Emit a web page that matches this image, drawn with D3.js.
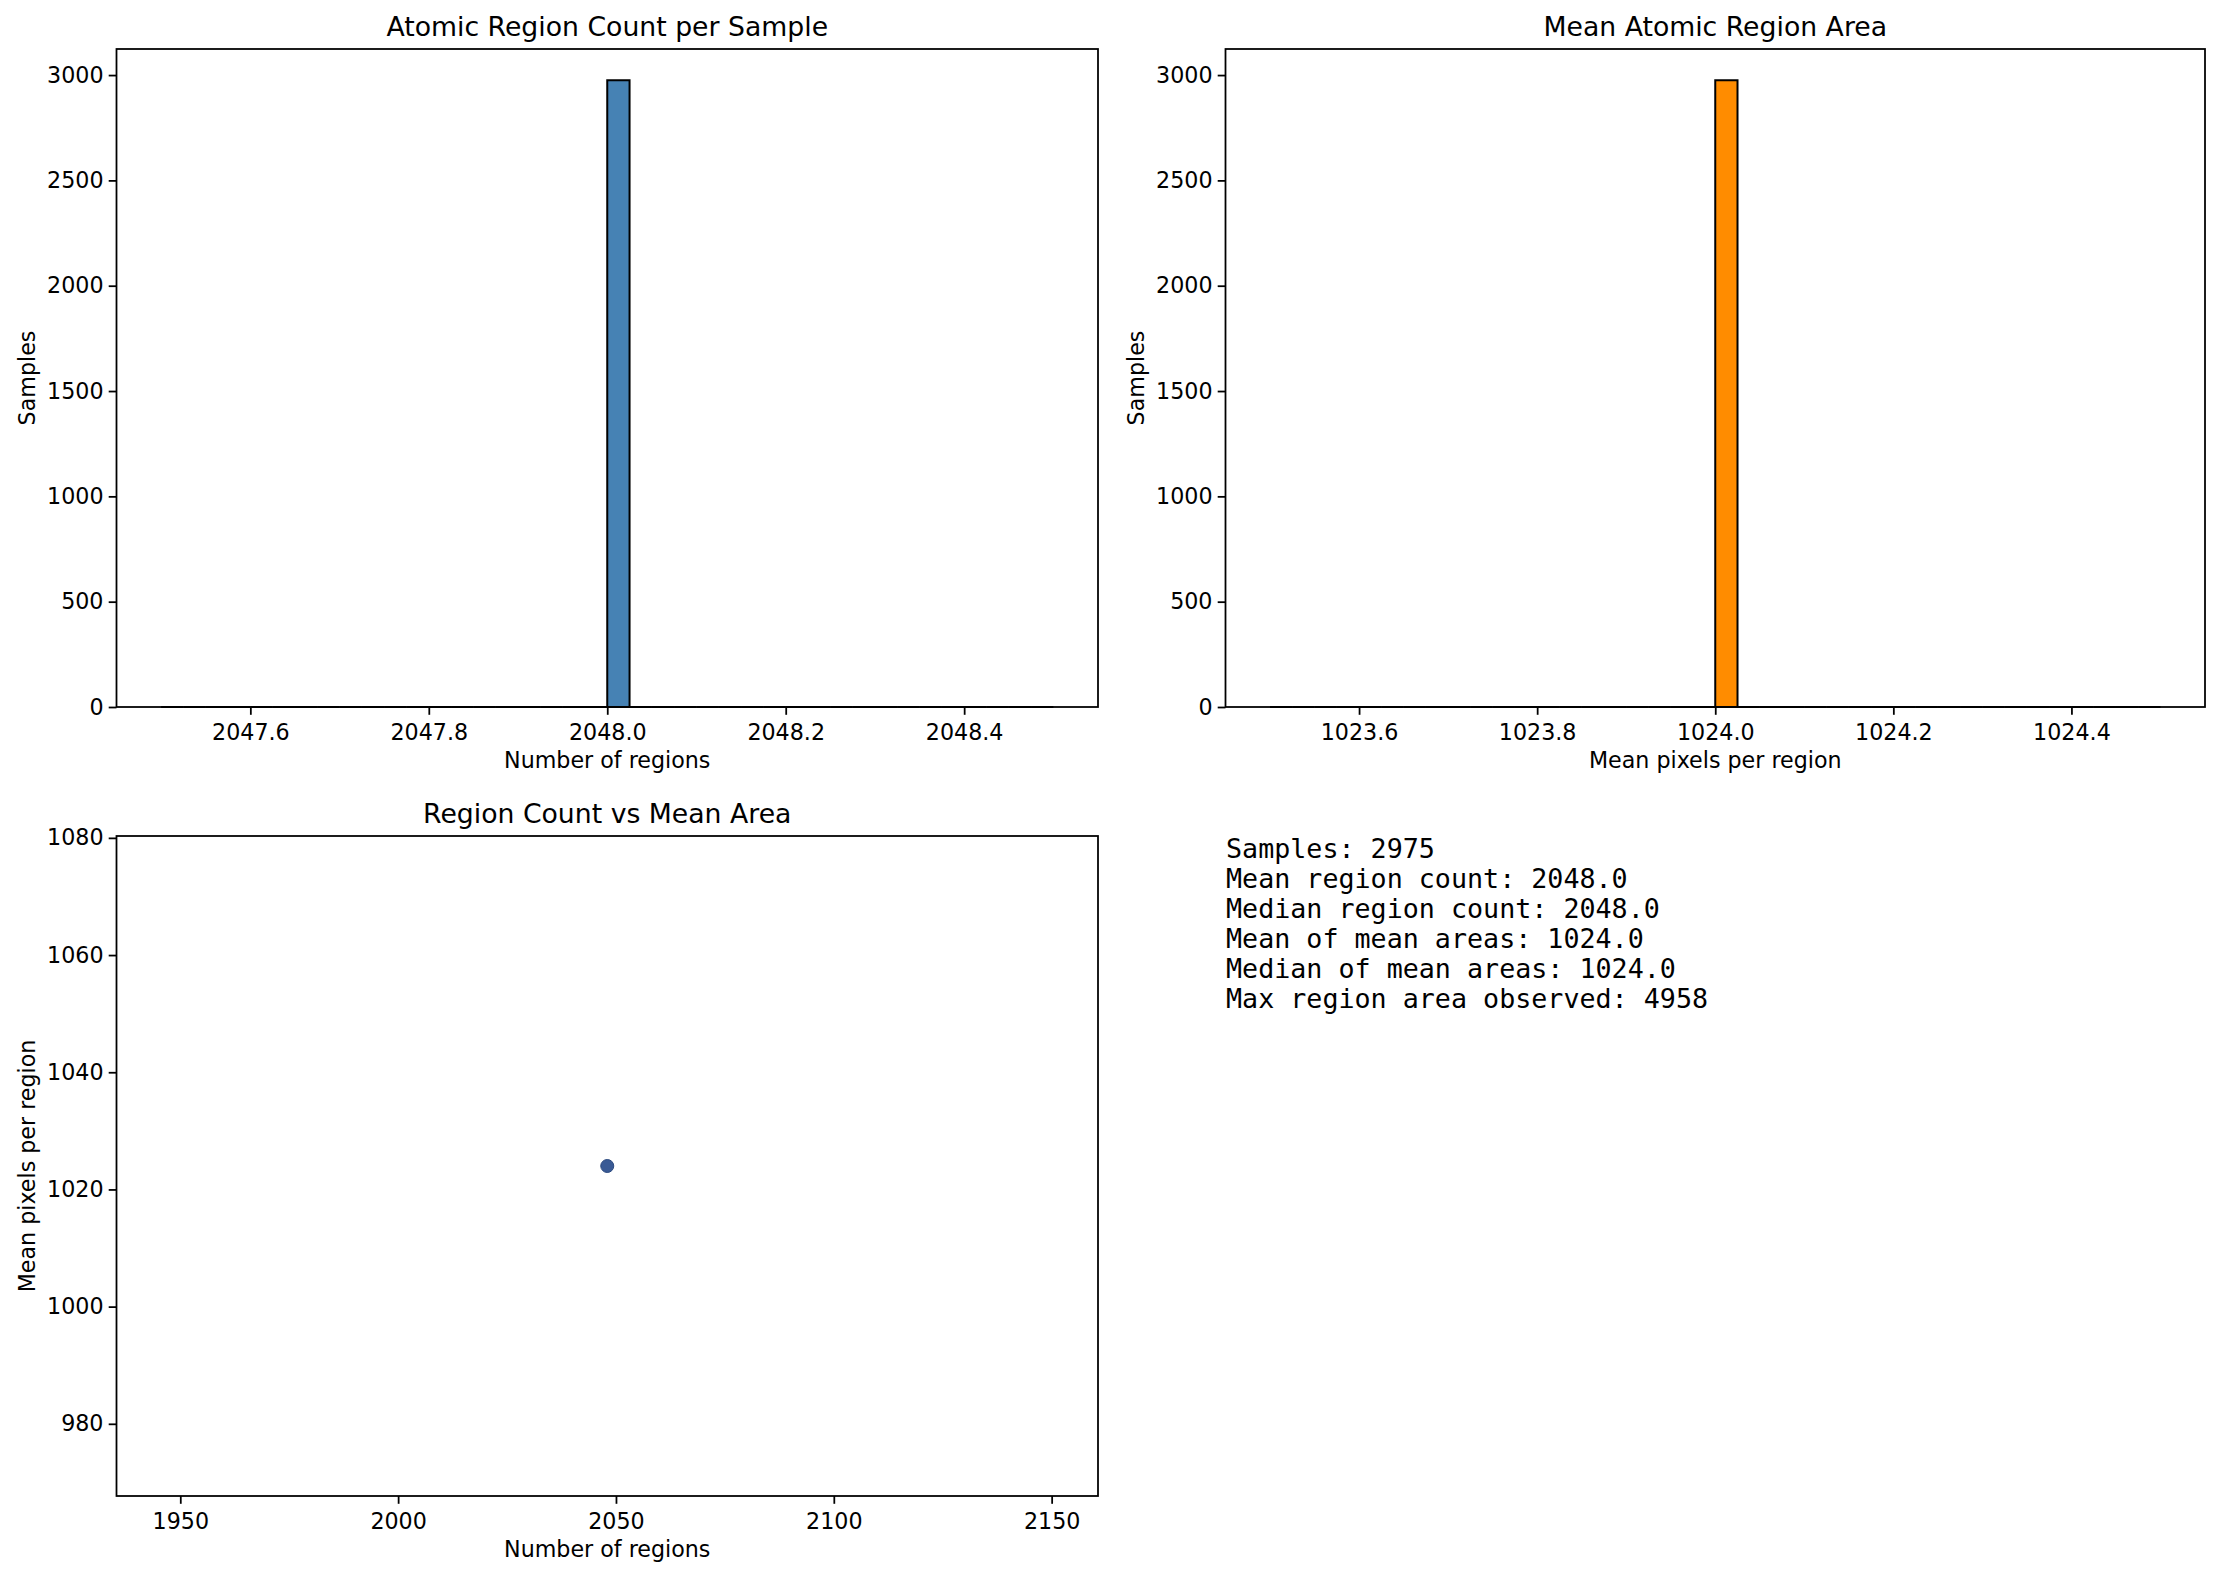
<!DOCTYPE html>
<meta charset='utf-8'>
<head>
  <title>Atomic Regions</title>
  <style>
    body { margin: 0; background: #fff; }
    svg text { font-family: 'DejaVu Sans', sans-serif; fill: #000; }
    .stats text { font-family: 'DejaVu Sans Mono', monospace; }
  </style>
</head>
<body>
  <div id='chart'></div>
</body>
<script src='https://cdn.jsdelivr.net/npm/d3@7'></script>
<script>

// histogram of region counts: 40 bins over [2047.5, 2048.5]
var countRange = [2047.5, 2048.5];
var countBins = [0, 0, 0, 0, 0, 0, 0, 0, 0, 0,
                 0, 0, 0, 0, 0, 0, 0, 0, 0, 0,
                 2975, 0, 0, 0, 0, 0, 0, 0, 0, 0,
                 0, 0, 0, 0, 0, 0, 0, 0, 0, 0];
var countTicks = [2047.6, 2047.8, 2048.0, 2048.2, 2048.4];

// histogram of mean areas: 40 bins over [1023.5, 1024.5]
var areaRange = [1023.5, 1024.5];
var areaBins = [0, 0, 0, 0, 0, 0, 0, 0, 0, 0,
                0, 0, 0, 0, 0, 0, 0, 0, 0, 0,
                2975, 0, 0, 0, 0, 0, 0, 0, 0, 0,
                0, 0, 0, 0, 0, 0, 0, 0, 0, 0];
var areaTicks = [1023.6, 1023.8, 1024.0, 1024.2, 1024.4];

var histTicks = [0, 500, 1000, 1500, 2000, 2500, 3000];

// scatter: every sample sits on the same spot
var scatterPoints = [{count: 2048, area: 1024}];
var scatterXTicks = [1950, 2000, 2050, 2100, 2150];
var scatterYTicks = [980, 1000, 1020, 1040, 1060, 1080];

var statsLines = [
  'Samples: 2975',
  'Mean region count: 2048.0',
  'Median region count: 2048.0',
  'Mean of mean areas: 1024.0',
  'Median of mean areas: 1024.0',
  'Max region area observed: 4958'
];

var width = 2222,
    height = 1576,
    tickLen = 7.8,
    fs = 22.2,
    titleFs = 26.7;

var svg = d3.select('#chart').append('svg')
    .attr('width', width)
    .attr('height', height);

function panel(box, x, y, xTicks, yTicks, xFmt, yFmt, title, xLabel, yLabel) {
  var g = svg.append('g');
  var plot = g.append('g');

  var xAxis = g.append('g')
      .attr('transform', 'translate(0,' + box.bottom + ')')
      .call(d3.axisBottom(x).tickValues(xTicks).tickFormat(xFmt)
        .tickSizeInner(tickLen).tickSizeOuter(0).tickPadding(5));
  var yAxis = g.append('g')
      .attr('transform', 'translate(' + box.left + ',0)')
      .call(d3.axisLeft(y).tickValues(yTicks).tickFormat(yFmt)
        .tickSizeInner(tickLen).tickSizeOuter(0).tickPadding(5.2));

  [xAxis, yAxis].forEach(function(a) {
    a.select('.domain').remove();
    a.selectAll('line').attr('stroke', '#000').attr('stroke-width', 1.78);
    a.selectAll('text').attr('font-size', fs).attr('font-family', 'DejaVu Sans').attr('fill', '#000');
  });
  xAxis.selectAll('text').attr('dy', null).attr('y', 33);

  g.append('rect')
      .attr('x', box.left).attr('y', box.top)
      .attr('width', box.right - box.left).attr('height', box.bottom - box.top)
      .attr('fill', 'none').attr('stroke', '#000').attr('stroke-width', 1.78);

  g.append('text')
      .attr('x', (box.left + box.right) / 2).attr('y', box.top - 13.3)
      .attr('text-anchor', 'middle').attr('font-size', titleFs)
      .text(title);
  g.append('text')
      .attr('x', (box.left + box.right) / 2).attr('y', box.bottom + 61)
      .attr('text-anchor', 'middle').attr('font-size', fs)
      .text(xLabel);
  g.append('text')
      .attr('transform', 'translate(' + (box.left - 82) + ',' + ((box.top + box.bottom) / 2) + ') rotate(-90)')
      .attr('text-anchor', 'middle').attr('font-size', fs)
      .text(yLabel);
  return plot;
}

function histogram(box, range, bins, ticks, color, title, xLabel) {
  var pad = (range[1] - range[0]) * 0.05;
  var x = d3.scaleLinear().domain([range[0] - pad, range[1] + pad]).range([box.left, box.right]);
  var y = d3.scaleLinear().domain([0, d3.max(bins) * 1.05]).range([box.bottom, box.top]);
  var step = (range[1] - range[0]) / bins.length;

  var plot = panel(box, x, y, ticks, histTicks, d3.format('.1f'), d3.format('d'),
      title, xLabel, 'Samples');

  plot.selectAll('path')
      .data(bins)
    .enter().append('path')
      .attr('d', function(d, i) {
        var x0 = x(range[0] + i * step), x1 = x(range[0] + (i + 1) * step);
        return 'M' + x0 + ',' + y(0) + 'V' + y(d) + 'H' + x1 + 'V' + y(0) + 'Z';
      })
      .attr('fill', color)
      .attr('stroke', '#000')
      .attr('stroke-width', 2);
}

histogram({left: 116.5, right: 1098, top: 49, bottom: 707},
    countRange, countBins, countTicks, '#4682b4',
    'Atomic Region Count per Sample', 'Number of regions');

histogram({left: 1225.5, right: 2205, top: 49, bottom: 707},
    areaRange, areaBins, areaTicks, '#ff8c00',
    'Mean Atomic Region Area', 'Mean pixels per region');

// scatter panel, limits as matplotlib expands a single point
(function() {
  var box = {left: 116.5, right: 1098, top: 836, bottom: 1496};
  var cx = d3.mean(scatterPoints, function(d) { return d.count; }),
      cy = d3.mean(scatterPoints, function(d) { return d.area; });
  var ex = cx * 0.05 * 1.1, ey = cy * 0.05 * 1.1;
  var x = d3.scaleLinear().domain([cx - ex, cx + ex]).range([box.left, box.right]);
  var y = d3.scaleLinear().domain([cy - ey, cy + ey]).range([box.bottom, box.top]);

  var plot = panel(box, x, y, scatterXTicks, scatterYTicks, d3.format('d'), d3.format('d'),
      'Region Count vs Mean Area', 'Number of regions', 'Mean pixels per region');

  plot.selectAll('circle')
      .data(scatterPoints)
    .enter().append('circle')
      .attr('cx', function(d) { return x(d.count); })
      .attr('cy', function(d) { return y(d.area); })
      .attr('r', 6.5)
      .attr('fill', '#395a95')
      .attr('stroke', '#2c4a80')
      .attr('stroke-width', 1);
})();

svg.append('g').attr('class', 'stats')
    .selectAll('text')
    .data(statsLines)
  .enter().append('text')
    .attr('x', 1226)
    .attr('y', function(d, i) { return 857.5 + i * 30; })
    .attr('font-size', titleFs)
    .text(function(d) { return d; });

</script>
